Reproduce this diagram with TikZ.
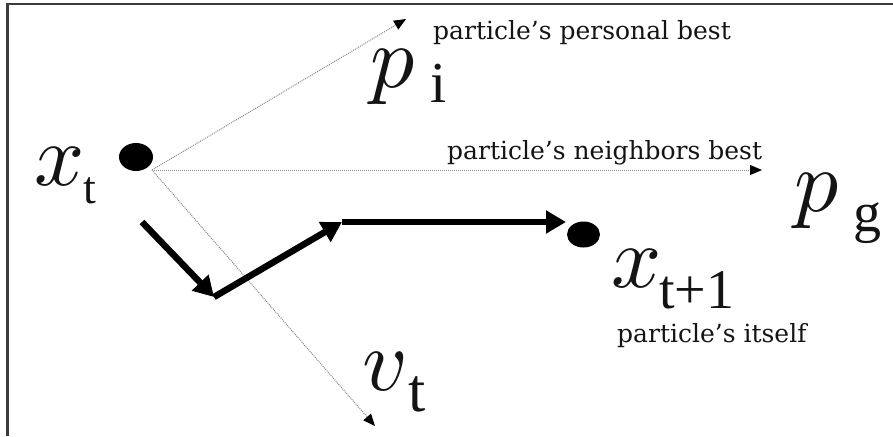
\documentclass[tikz,border=0pt]{standalone}
\usepackage{graphicx}
\usepackage{fontspec}
\setmainfont{Liberation Serif}
\newfontfamily\lblfont{DejaVu Serif}
\usetikzlibrary{arrows.meta,shapes.geometric}
\definecolor{framec}{HTML}{3C3C3C}
\definecolor{dotc}{HTML}{8A8A8A}
\definecolor{txtc}{HTML}{141414}
\newcommand{\bigmath}[1]{\scalebox{8.8}{$#1$}}
\tikzset{
  frameline/.style={framec, line width=2.5pt},
  guide/.style={dotc, line width=1pt, dash pattern=on 1pt off 1pt,
    -{Triangle[length=12pt,width=10pt,color=black]}, shorten >=0pt},
  move/.style={black, line width=6.5pt,
    -{Triangle[length=20pt,width=22pt]}},
  blob/.style={ellipse, fill=black, draw=none, inner sep=0pt},
  mathbig/.style={inner sep=0pt, anchor=base west, text=txtc,
    font=\fontsize{10}{10}\selectfont},
  subs/.style={inner sep=0pt, anchor=base west, text=txtc},
  lbl/.style={inner sep=0pt, anchor=base west, text=txtc,
    font=\lblfont\fontsize{25}{25}\selectfont},
}
\begin{document}
\begin{tikzpicture}[x=1pt,y=-1pt]
\useasboundingbox (0,0) rectangle (893,436);
% frame (top and left edges only)
\coordinate (fTL) at (7.5,4);
\coordinate (fTR) at (893,4);
\coordinate (fBL) at (7.5,436);
\draw[frameline] (fTR) -- (fTL) -- (fBL);

% dots
\node[blob, minimum width=34pt, minimum height=28pt] (xt) at (136,157) {};
\node[blob, minimum width=33pt, minimum height=26pt] (xt1) at (583.5,234.5) {};

% guide arrows
\coordinate (o) at (152,170);
\coordinate (pi) at (406,19);
\coordinate (pg) at (762,170);
\coordinate (vt) at (375,426);
\draw[guide] (o) -- (pi);
\draw[guide] (o) -- (pg);
\draw[guide] (o) -- (vt);

% movement arrows
\coordinate (m0) at (142,222);
\coordinate (m1) at (214,297);
\coordinate (m2) at (342,222);
\coordinate (m3) at (566,222);
\draw[move] (m0) -- (m1);
\draw[move] (m1) -- (m2);
\draw[move] (m2) -- (m3);

% math labels
\node[mathbig] (lxt) at (34,185) {\bigmath{x}};
\node[subs, font=\fontsize{46}{46}\selectfont] (lxts) at (83,203) {t};
\node[mathbig] (lpi) at (370,87) {\bigmath{p}};
\node[subs, font=\fontsize{58}{58}\selectfont] (lpis) at (430,102) {i};
\node[mathbig] (lpg) at (794,211) {\bigmath{p}};
\node[subs, font=\fontsize{56}{56}\selectfont] (lpgs) at (853,231) {g};
\node[mathbig] (lxt1) at (611,287) {\bigmath{x}};
\node[subs, font=\fontsize{56}{56}\selectfont] (lxt1s) at (659,308) {t+1};
\node[mathbig] (lvt) at (362,390) {\bigmath{v}};
\node[subs, font=\fontsize{62}{62}\selectfont] (lvts) at (408,411) {t};

% text labels
\node[lbl] (t1) at (433,40) {particle’s personal best};
\node[lbl] (t2) at (447,159) {particle’s neighbors best};
\node[lbl] (t3) at (617,342) {particle’s itself};
\end{tikzpicture}
\end{document}
